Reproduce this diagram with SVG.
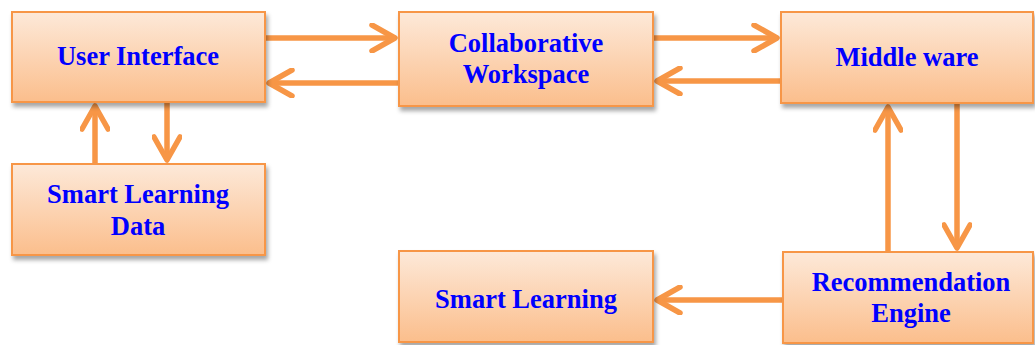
<svg xmlns="http://www.w3.org/2000/svg" width="1035" height="345" viewBox="0 0 1035 345">
<defs>
<linearGradient id="g" x1="0" y1="0" x2="0" y2="1">
<stop offset="0" stop-color="#fde9d9"/>
<stop offset="1" stop-color="#fbbe8c"/>
</linearGradient>
<filter id="sh" x="-10%" y="-10%" width="130%" height="140%">
<feDropShadow dx="2" dy="4" stdDeviation="2" flood-color="#000" flood-opacity="0.35"/>
</filter>
<marker id="ah" viewBox="0 0 30 30" refX="26" refY="15" markerWidth="30" markerHeight="30" markerUnits="userSpaceOnUse" orient="auto">
<path d="M3 2 L26 15 L3 28" fill="none" stroke="#f79646" stroke-width="5.5" stroke-linecap="round" stroke-linejoin="round"/>
</marker>
<style>
.box{fill:url(#g);stroke:#f79646;stroke-width:2;filter:url(#sh)}
.t{font-family:"Liberation Serif","Times New Roman",serif;font-weight:bold;font-size:26.5px;fill:#0000ff;text-anchor:middle}
.c{stroke:#f79646;stroke-width:5.5;fill:none;marker-end:url(#ah)}
</style>
</defs>
<g id="connectors">
<line class="c" x1="266" y1="38" x2="395" y2="38"/>
<line class="c" x1="398" y1="83" x2="269" y2="83"/>
<line class="c" x1="654" y1="38" x2="777" y2="38"/>
<line class="c" x1="780" y1="81" x2="657" y2="81"/>
<line class="c" x1="957" y1="103" x2="957" y2="248"/>
<line class="c" x1="888" y1="251" x2="888" y2="107"/>
<line class="c" x1="782" y1="300" x2="657" y2="300"/>
<line class="c" x1="167" y1="103" x2="167" y2="160"/>
<line class="c" x1="95" y1="163" x2="95" y2="106"/>
</g>
<g id="user-interface">
<rect class="box" x="12" y="12" width="253" height="90"/>
<text class="t" x="138" y="65">User Interface</text>
</g>
<g id="collaborative-workspace">
<rect class="box" x="399" y="12" width="254" height="94"/>
<text class="t" x="526" y="52">Collaborative</text>
<text class="t" x="526" y="83">Workspace</text>
</g>
<g id="middle-ware">
<rect class="box" x="781" y="12" width="252" height="91"/>
<text class="t" x="907" y="66">Middle ware</text>
</g>
<g id="smart-learning-data">
<rect class="box" x="12" y="164" width="253" height="91"/>
<text class="t" x="138" y="203">Smart Learning</text>
<text class="t" x="138" y="235">Data</text>
</g>
<g id="smart-learning">
<rect class="box" x="399" y="251" width="254" height="91"/>
<text class="t" x="526" y="308">Smart Learning</text>
</g>
<g id="recommendation-engine">
<rect class="box" x="783" y="252" width="250" height="91"/>
<text class="t" x="911" y="291">Recommendation</text>
<text class="t" x="911" y="322">Engine</text>
</g>
</svg>
